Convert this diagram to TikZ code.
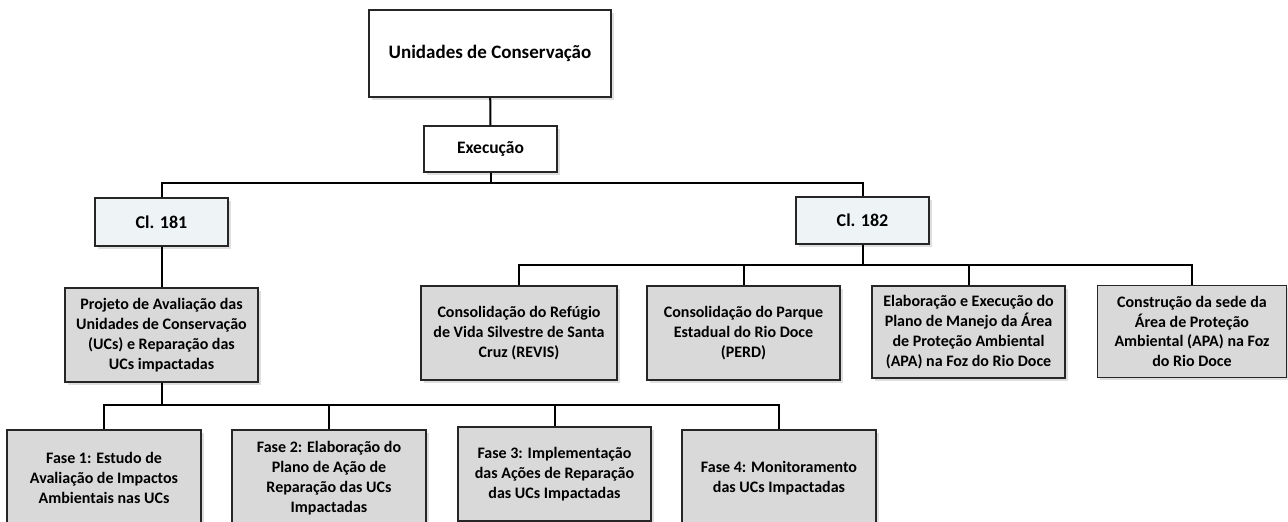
\documentclass[tikz,border=0pt]{standalone}
\usepackage{fontspec}
\setmainfont{Carlito}
\usetikzlibrary{shadows}
\definecolor{boxgray}{HTML}{D9D9D9}
\definecolor{boxblue}{HTML}{EEF3F6}
\definecolor{edge}{HTML}{262626}
\tikzset{
  box/.style={draw=edge, line width=1.5pt, fill=boxgray, align=center, inner sep=2pt,
    font=\bfseries\fontsize{16}{19.8}\selectfont, text=black,
    drop shadow={opacity=0.25, shadow xshift=2.5pt, shadow yshift=-2.5pt}},
  whitebox/.style={box, fill=white},
  clbox/.style={box, fill=boxblue, font=\bfseries\fontsize{18}{21}\selectfont},
  conn/.style={draw=black, line width=2pt}
}
\begin{document}
\begin{tikzpicture}[x=1pt,y=-1pt]
\useasboundingbox (0,0) rectangle (1288,522);
\clip (0,0) rectangle (1288,522);
% level 0-1
\node[whitebox, minimum width=242pt, minimum height=87pt, font=\bfseries\fontsize{19}{22}\selectfont] (top) at (490,53.5) {Unidades de Conservação};
\node[whitebox, minimum width=133pt, minimum height=46pt, font=\bfseries\fontsize{17.5}{20}\selectfont] (exec) at (490.5,149) {Execução};
% level 2
\node[clbox, minimum width=133pt, minimum height=48pt] (cl181) at (161.5,222) {Cl. 181};
\node[clbox, minimum width=133pt, minimum height=47pt] (cl182) at (862.5,220.5) {Cl. 182};
% level 3
\node[box, minimum width=193pt, minimum height=94pt] (proj) at (161.5,335) {Projeto de Avaliação das\\Unidades de Conservação\\(UCs) e Reparação das\\UCs impactadas};
\node[box, minimum width=196pt, minimum height=94pt] (revis) at (519,333) {Consolidação do Refúgio\\de Vida Silvestre de Santa\\Cruz (REVIS)};
\node[box, minimum width=193pt, minimum height=94pt] (perd) at (743.5,333) {Consolidação do Parque\\Estadual do Rio Doce\\(PERD)};
\node[box, minimum width=193pt, minimum height=92pt] (elab) at (968.5,332) {Elaboração e Execução do\\Plano de Manejo da Área\\de Proteção Ambiental\\(APA) na Foz do Rio Doce};
\node[box, minimum width=189pt, minimum height=92pt] (constr) at (1192,331.5) {Construção da sede da\\Área de Proteção\\Ambiental (APA) na Foz\\do Rio Doce};
% level 4
\node[box, minimum width=194pt, minimum height=96pt] (f1) at (104,478) {Fase 1: Estudo de\\Avaliação de Impactos\\Ambientais nas UCs};
\node[box, minimum width=194pt, minimum height=96pt] (f2) at (329,478) {Fase 2: Elaboração do\\Plano de Ação de\\Reparação das UCs\\Impactadas};
\node[box, minimum width=193pt, minimum height=94pt] (f3) at (554.5,474) {Fase 3: Implementação\\das Ações de Reparação\\das UCs Impactadas};
\node[box, minimum width=194pt, minimum height=96pt] (f4) at (779,478) {Fase 4: Monitoramento\\das UCs Impactadas};
% bus coordinates
\coordinate (bus1) at (490.5,183);
\coordinate (bus2) at (862.5,264.5);
\coordinate (bus3) at (161.5,405);
% connectors
\draw[conn] (top) -- (exec);
\draw[conn] (exec.south) -- (bus1);
\draw[conn] (cl181.north) |- (bus1) -| (cl182.north);
\draw[conn] (cl181) -- (proj);
\draw[conn] (cl182.south) -- (bus2);
\draw[conn] (revis.north) |- (bus2) -| (constr.north);
\draw[conn] (perd.north) -- (perd.north |- bus2);
\draw[conn] (elab.north) -- (elab.north |- bus2);
\draw[conn] (proj.south) -- (bus3);
\draw[conn] (f1.north) |- (bus3) -| (f4.north);
\draw[conn] (f2.north) -- (f2.north |- bus3);
\draw[conn] (f3.north) -- (f3.north |- bus3);
\end{tikzpicture}
\end{document}
